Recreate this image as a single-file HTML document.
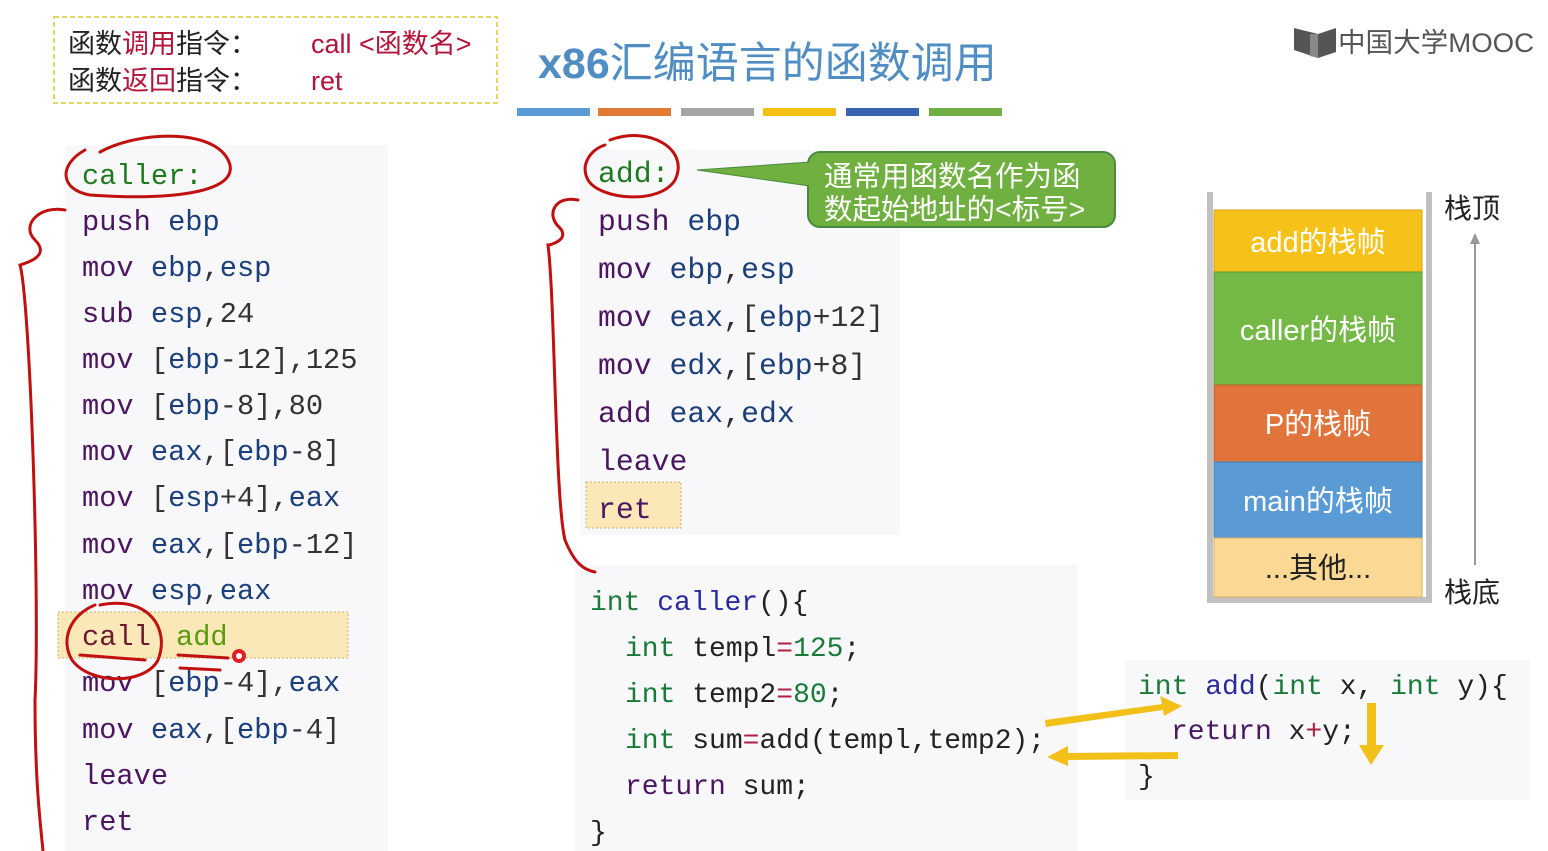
<!DOCTYPE html>
<html><head><meta charset="utf-8"><style>
html,body{margin:0;padding:0;background:#fff;}
svg{display:block}
.m{font-family:"Liberation Mono",monospace;}
.c{font-family:"Liberation Sans","Noto Sans CJK SC",sans-serif;}
</style></head><body>
<svg width="1548" height="851" viewBox="0 0 1548 851" xmlns="http://www.w3.org/2000/svg">
<rect width="1548" height="851" fill="#fff"/>
<!-- top dashed box -->
<rect x="54" y="17" width="443" height="86" fill="none" stroke="#e2d469" stroke-width="2" stroke-dasharray="5,3"/>
<g class="c" font-size="27" fill="#222">
<text x="68" y="53">函数<tspan fill="#b3143a">调用</tspan>指令：</text>
<text x="68" y="90">函数<tspan fill="#b3143a">返回</tspan>指令：</text>
<text x="311" y="53" fill="#b3143a">call &lt;函数名&gt;</text>
<text x="311" y="90" fill="#b3143a">ret</text>
</g>
<!-- title -->
<text x="538" y="78" class="c" font-size="43" fill="#4f8dc2" font-weight="bold">x86<tspan font-weight="normal">汇编语言的函数调用</tspan></text>
<rect x="517" y="108" width="73" height="8" fill="#5b9bd5"/>
<rect x="598" y="108" width="73" height="8" fill="#e07a35"/>
<rect x="681" y="108" width="73" height="8" fill="#a5a5a5"/>
<rect x="763" y="108" width="73" height="8" fill="#f5c018"/>
<rect x="846" y="108" width="73" height="8" fill="#3a64b0"/>
<rect x="929" y="108" width="73" height="8" fill="#72b045"/>
<!-- logo -->
<path d="M1294 28 L1318 34 L1336 28 L1336 52 L1318 58 L1294 50 Z" fill="#555"/>
<path d="M1310 34 L1318 34 L1318 58 L1310 56 Z" fill="#888"/>
<text x="1338" y="52" class="c" font-size="27" fill="#555" textLength="196" lengthAdjust="spacingAndGlyphs">中国大学MOOC</text>

<!-- panels -->
<rect x="65" y="145" width="323" height="706" fill="#f8f8fb"/>
<rect x="580" y="150" width="320" height="385" fill="#f8f8fb"/>
<rect x="575" y="565" width="503" height="286" fill="#f8f8fb"/>
<rect x="1125" y="660" width="405" height="140" fill="#f8f8fb"/>
<rect x="58" y="612" width="290" height="46" fill="#fbe8b8" stroke="#c8b070" stroke-dasharray="2,2"/>
<rect x="586" y="482" width="95" height="46" fill="#fbe8b8" stroke="#c8b070" stroke-dasharray="2,2"/>

<!-- left asm -->
<g class="m" font-size="28.7" fill="#1b3f7a">
<text x="82" y="184" fill="#1e7a1e">caller:</text>
<text x="82" y="230"><tspan fill="#4b1660">push</tspan> ebp</text>
<text x="82" y="276"><tspan fill="#4b1660">mov</tspan> ebp<tspan fill="#333">,</tspan>esp</text>
<text x="82" y="322"><tspan fill="#4b1660">sub</tspan> esp<tspan fill="#333">,24</tspan></text>
<text x="82" y="368"><tspan fill="#4b1660">mov</tspan> <tspan fill="#333">[</tspan>ebp<tspan fill="#333">-12],125</tspan></text>
<text x="82" y="414"><tspan fill="#4b1660">mov</tspan> <tspan fill="#333">[</tspan>ebp<tspan fill="#333">-8],80</tspan></text>
<text x="82" y="460"><tspan fill="#4b1660">mov</tspan> eax<tspan fill="#333">,[</tspan>ebp<tspan fill="#333">-8]</tspan></text>
<text x="82" y="506"><tspan fill="#4b1660">mov</tspan> <tspan fill="#333">[</tspan>esp<tspan fill="#333">+4],</tspan>eax</text>
<text x="82" y="553"><tspan fill="#4b1660">mov</tspan> eax<tspan fill="#333">,[</tspan>ebp<tspan fill="#333">-12]</tspan></text>
<text x="82" y="599"><tspan fill="#4b1660">mov</tspan> esp<tspan fill="#333">,</tspan>eax</text>
<text x="82" y="645" fill="#6a1a2a">call</text>
<text x="176" y="645" fill="#5a9a10">add</text>
<text x="82" y="691"><tspan fill="#4b1660">mov</tspan> <tspan fill="#333">[</tspan>ebp<tspan fill="#333">-4],</tspan>eax</text>
<text x="82" y="738"><tspan fill="#4b1660">mov</tspan> eax<tspan fill="#333">,[</tspan>ebp<tspan fill="#333">-4]</tspan></text>
<text x="82" y="784" fill="#4b1660">leave</text>
<text x="82" y="830" fill="#4b1660">ret</text>
</g>
<!-- right asm -->
<g class="m" font-size="29.8" fill="#1b3f7a">
<text x="598" y="182" fill="#1e7a1e">add:</text>
<text x="598" y="230"><tspan fill="#4b1660">push</tspan> ebp</text>
<text x="598" y="278"><tspan fill="#4b1660">mov</tspan> ebp<tspan fill="#333">,</tspan>esp</text>
<text x="598" y="326"><tspan fill="#4b1660">mov</tspan> eax<tspan fill="#333">,[</tspan>ebp<tspan fill="#333">+12]</tspan></text>
<text x="598" y="374"><tspan fill="#4b1660">mov</tspan> edx<tspan fill="#333">,[</tspan>ebp<tspan fill="#333">+8]</tspan></text>
<text x="598" y="422"><tspan fill="#4b1660">add</tspan> eax<tspan fill="#333">,</tspan>edx</text>
<text x="598" y="470" fill="#4b1660">leave</text>
<text x="598" y="518" fill="#4b1660">ret</text>
</g>
<!-- callout -->
<path d="M697 170 L810 162 L810 186 Z" fill="#70b040" stroke="#4a8a40"/>
<rect x="808" y="152" width="307" height="75" rx="12" fill="#70b040" stroke="#4a8a40" stroke-width="2"/>
<rect x="806" y="163" width="6" height="22" fill="#70b040"/>
<g class="c" font-size="28.5" fill="#fff">
<text x="824" y="186">通常用函数名作为函</text>
<text x="824" y="219">数起始地址的&lt;标号&gt;</text>
</g>
<!-- C code -->
<g class="m" font-size="28" fill="#222">
<text x="590" y="610"><tspan fill="#1a7a3a">int</tspan> <tspan fill="#2a2a9a">caller</tspan>(){</text>
<text x="625" y="656"><tspan fill="#1a7a3a">int</tspan> templ<tspan fill="#b02040">=</tspan><tspan fill="#1a7a3a">125</tspan>;</text>
<text x="625" y="702"><tspan fill="#1a7a3a">int</tspan> temp2<tspan fill="#b02040">=</tspan><tspan fill="#1a7a3a">80</tspan>;</text>
<text x="625" y="748"><tspan fill="#1a7a3a">int</tspan> sum<tspan fill="#b02040">=</tspan>add(templ,temp2);</text>
<text x="625" y="794"><tspan fill="#4b1660">return</tspan> sum;</text>
<text x="590" y="840">}</text>
<text x="1138" y="694"><tspan fill="#1a7a3a">int</tspan> <tspan fill="#2a2a9a">add</tspan>(<tspan fill="#1a7a3a">int</tspan> x, <tspan fill="#1a7a3a">int</tspan> y){</text>
<text x="1171" y="739"><tspan fill="#4b1660">return</tspan> x<tspan fill="#b02040">+</tspan>y;</text>
<text x="1138" y="784">}</text>
</g>
<!-- yellow arrows -->
<g fill="#f2c018">
<path d="M1045 720 L1162 704 L1160 696 L1182 706 L1164 716 L1163 710 L1046 727 Z"/>
<path d="M1178 752 L1068 753 L1068 746 L1047 757 L1068 766 L1068 760 L1178 759 Z"/>
<path d="M1367 703 L1376 703 L1376 745 L1384 745 L1371 765 L1359 745 L1367 745 Z"/>
</g>
<!-- stack -->
<path d="M1210 192 L1210 600 L1429 600 L1429 192" fill="none" stroke="#c0c0c0" stroke-width="6"/>
<rect x="1214" y="210" width="208" height="62" fill="#f6c21a" stroke="#d9a010"/>
<rect x="1214" y="272" width="208" height="113" fill="#74b846" stroke="#5a9a38"/>
<rect x="1214" y="385" width="208" height="77" fill="#e0743a" stroke="#c05a28"/>
<rect x="1214" y="462" width="208" height="76" fill="#5b9bd5" stroke="#3f7fba"/>
<rect x="1214" y="538" width="208" height="59" fill="#fbd894" stroke="#d9b060"/>
<g class="c" font-size="29" fill="#fff" text-anchor="middle">
<text x="1318" y="252">add的栈帧</text>
<text x="1318" y="340">caller的栈帧</text>
<text x="1318" y="434">P的栈帧</text>
<text x="1318" y="511">main的栈帧</text>
<text x="1318" y="578" fill="#222">...其他...</text>
</g>
<line x1="1475" y1="565" x2="1475" y2="243" stroke="#999" stroke-width="2"/>
<path d="M1470 244 L1475 233 L1480 244 Z" fill="#999"/>
<g class="c" font-size="28" fill="#222">
<text x="1444" y="218">栈顶</text>
<text x="1444" y="602">栈底</text>
</g>
<!-- red annotations -->
<g fill="none" stroke="#c01010" stroke-width="3" stroke-linecap="round">
<path d="M100 152 C140 130 220 128 230 165 C236 195 160 200 90 195 C60 190 58 165 85 150"/>
<path d="M65 210 C40 205 20 225 35 240 C50 255 30 262 20 265 C30 300 40 600 35 700 C35 780 40 820 43 851"/>
<path d="M610 140 C650 125 690 150 675 180 C660 205 600 200 588 180 C580 165 590 150 605 145"/>
<path d="M578 200 C555 195 545 215 560 228 C570 240 550 245 548 245 C555 300 555 500 565 540 C575 565 585 570 595 572"/>
<path d="M100 605 C150 595 170 630 158 660 C145 685 90 685 72 660 C60 640 70 615 95 605"/>
<path d="M80 655 L145 660"/>
<path d="M178 655 L228 658"/>
<path d="M180 668 L220 670"/>
</g>
<circle cx="239" cy="656" r="7" fill="#e02020"/>
<circle cx="239" cy="656" r="3" fill="#fff"/>
</svg>
</body></html>
